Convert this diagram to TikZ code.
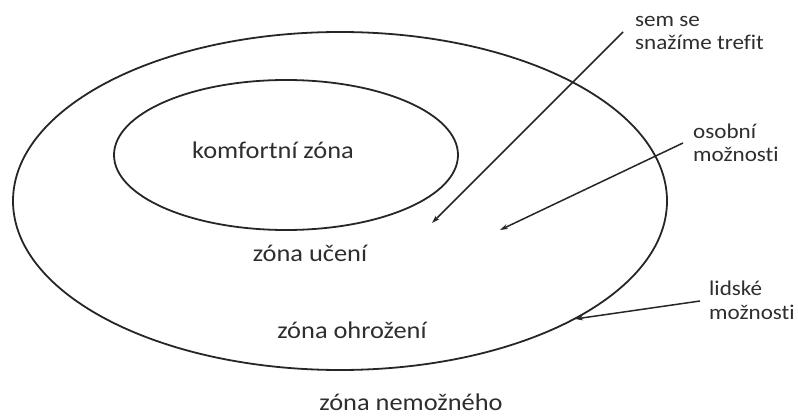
\documentclass[tikz,border=0pt]{standalone}
\usepackage{fontspec}
\setmainfont{Carlito}[FakeStretch=1.1,Ligatures=NoCommon]
\usetikzlibrary{arrows.meta,shapes.geometric}
\begin{document}
\begin{tikzpicture}[x=1pt,y=-1pt,
  lbl/.style={font=\fontsize{24}{23}\selectfont, text=black!82, inner sep=0pt, anchor=base},
  side/.style={font=\fontsize{21}{23.5}\selectfont, text=black!82, inner sep=0pt, align=left, anchor=base west},
  ring/.style={draw=black!85, line width=1.8pt, ellipse, inner sep=0pt},
  ptr/.style={draw=black!85, line width=1.5pt, -{Stealth[length=8pt,width=5pt]}}]
\useasboundingbox (0,0) rectangle (798,417);
\node[ring, minimum width=654pt, minimum height=338pt] (outer) at (340,201) {};
\node[ring, minimum width=344pt, minimum height=150pt] (inner) at (286,155) {};
\node[lbl] (komf) at (273,159) {komfortní zóna};
\node[lbl] (uceni) at (310,261) {zóna učení};
\node[lbl] (ohroz) at (352,338) {zóna ohrožení};
\node[lbl] (nemoz) at (411,410) {zóna nemožného};
\node[side] (sem) at (635,50) {sem se\\snažíme trefit};
\node[side] (osob) at (693,162) {osobní\\možnosti};
\node[side] (lid) at (709,319) {lidské\\možnosti};
\coordinate (semS) at (623,32);
\coordinate (semE) at (432,223);
\coordinate (osS) at (683,143);
\coordinate (osE) at (500,230);
\coordinate (lidS) at (700,301);
\coordinate (lidE) at (575,319);
\draw[ptr] (semS) -- (semE);
\draw[ptr] (osS) -- (osE);
\draw[ptr] (lidS) -- (lidE);
\end{tikzpicture}
\end{document}
